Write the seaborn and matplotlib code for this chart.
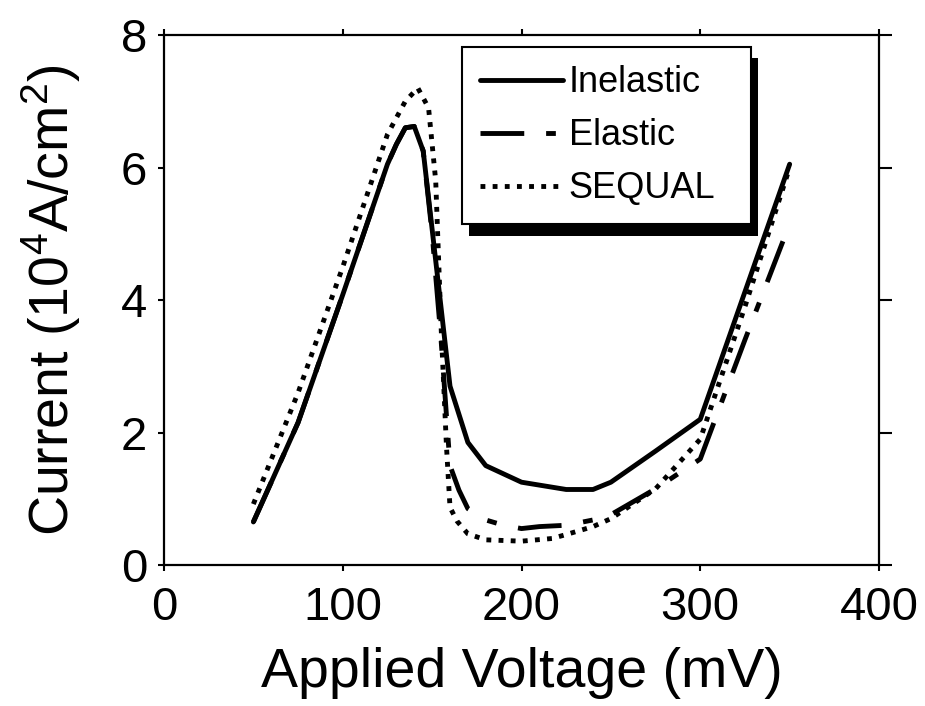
import matplotlib
matplotlib.use("Agg")
import matplotlib.pyplot as plt
import matplotlib.patheffects as pe
import pandas as pd
import seaborn as sns

# Current density (10^4 A/cm^2) versus applied voltage (mV) for three tunnelling models
inelastic_v = [50, 75, 100, 125, 130, 135, 140, 145, 160, 170, 180, 200, 225, 240, 250, 275, 300, 350]
inelastic_j = [0.65, 2.15, 4.08, 6.05, 6.35, 6.6, 6.62, 6.25, 2.7, 1.85, 1.5, 1.25, 1.14, 1.14, 1.25, 1.72, 2.2, 6.05]

elastic_v = [50, 75, 100, 125, 130, 135, 140, 145, 150, 155, 160, 165, 170, 180, 190, 200, 210, 225, 240, 250, 275, 300, 325, 350]
elastic_j = [0.65, 2.15, 4.08, 6.05, 6.35, 6.6, 6.62, 6.25, 5.0, 3.4, 1.5, 1.13, 0.85, 0.68, 0.6, 0.55, 0.58, 0.6, 0.68, 0.76, 1.15, 1.6, 3.4, 5.15]

sequal_v = [50, 75, 100, 125, 135, 142, 148, 152, 155, 158, 160, 164, 170, 180, 200, 217, 225, 240, 250, 275, 300, 325, 350]
sequal_j = [0.92, 2.6, 4.5, 6.5, 7.0, 7.2, 6.9, 5.8, 3.6, 1.8, 0.87, 0.66, 0.47, 0.38, 0.36, 0.4, 0.46, 0.58, 0.7, 1.15, 1.9, 3.9, 6.0]

model_names = ["Inelastic", "Elastic", "SEQUAL"]

df = pd.concat([
    pd.DataFrame({"V": inelastic_v, "J": inelastic_j, "model": "Inelastic"}),
    pd.DataFrame({"V": elastic_v, "J": elastic_j, "model": "Elastic"}),
    pd.DataFrame({"V": sequal_v, "J": sequal_j, "model": "SEQUAL"}),
], ignore_index=True)

sns.set_theme(style="ticks")
plt.rcParams["font.family"] = ["Liberation Sans", "DejaVu Sans"]
plt.rcParams["mathtext.default"] = "regular"
plt.rcParams["text.color"] = "black"

fig = plt.figure(figsize=(9.25, 7.06), dpi=100)
ax = fig.add_axes([0.1773, 0.1997, 0.7730, 0.7507])

LW = 3.5
line_dashes = {"Inelastic": "", "Elastic": (9, 4.5, 2, 4.5), "SEQUAL": (1, 1.5)}

sns.lineplot(data=df, x="V", y="J", style="model", style_order=model_names,
             dashes=line_dashes, color="black", linewidth=LW,
             estimator=None, ax=ax)

ax.set_xlim(0, 400)
ax.set_ylim(0, 8)
ax.set_xticks([0, 100, 200, 300, 400])
ax.set_yticks([0, 2, 4, 6, 8])

for side in ["left", "right", "top", "bottom"]:
    ax.spines[side].set_visible(True)
    ax.spines[side].set_linewidth(1.6)
    ax.spines[side].set_color("black")

ax.tick_params(axis="both", direction="out", width=1.5, length=4, color="black",
               labelsize=34, labelcolor="black", top=True, right=True,
               labeltop=False, labelright=False)
ax.tick_params(axis="x", pad=11)
ax.tick_params(axis="y", pad=8)
for t in ax.yaxis.get_major_ticks():
    t.tick2line.set_markersize(9)

ax.set_xlabel("Applied Voltage (mV)", fontsize=40, labelpad=12, color="black")
ax.set_ylabel("Current (10$^4$A/cm$^2$)", fontsize=40, labelpad=27, color="black")

handles, labels = ax.get_legend_handles_labels()
for h in handles:
    h.set_color("black")
    h.set_linewidth(LW)
leg = ax.legend(handles, labels, loc="upper left",
                bbox_to_anchor=(0.417, 0.649, 0.404, 0.328), mode="expand",
                borderaxespad=0, fontsize=26, handlelength=2.3, handletextpad=0.15,
                labelspacing=0.5, borderpad=0.5, fancybox=False, framealpha=1,
                edgecolor="black", labelcolor="black")
leg.get_frame().set_linewidth(1.5)
leg.get_frame().set_path_effects([
    pe.SimplePatchShadow(offset=(5, -8), shadow_rgbFace="black", alpha=1.0),
    pe.Normal(),
])

fig.savefig("out.png", dpi=100, facecolor="white")
